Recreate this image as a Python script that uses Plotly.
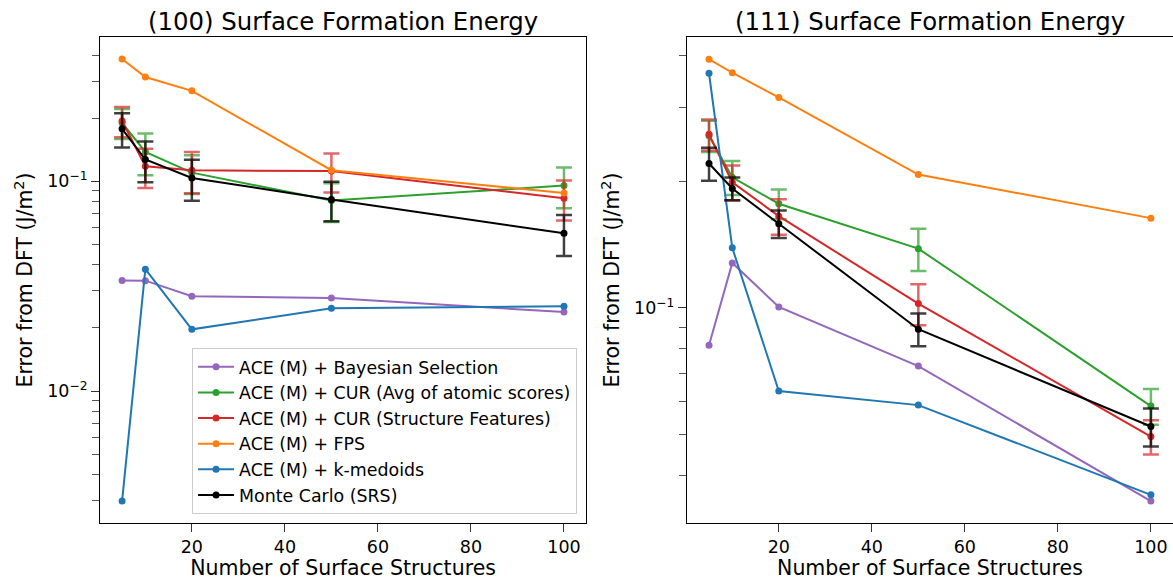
import plotly.graph_objects as go

# ---------------- data ----------------
n_structures = [5, 10, 20, 50, 100]

names = [
    "ACE (M) + Bayesian Selection",
    "ACE (M) + CUR (Avg of atomic scores)",
    "ACE (M) + CUR (Structure Features)",
    "ACE (M) + FPS",
    "ACE (M) + k-medoids",
    "Monte Carlo (SRS)",
]

# (100) surface
bayes_100 = [0.0337, 0.0336, 0.0283, 0.0278, 0.0238]
cur_avg_100 = [0.190, 0.138, 0.110, 0.081, 0.0954]
cur_avg_100_err = [0.031, 0.031, 0.023, 0.017, 0.021]
cur_struct_100 = [0.194, 0.118, 0.1128, 0.112, 0.083]
cur_struct_100_err = [0.032, 0.025, 0.025, 0.0236, 0.018]
fps_100 = [0.383, 0.314, 0.270, 0.113, 0.088]
kmed_100 = [0.00299, 0.0381, 0.0197, 0.0248, 0.0254]
mc_100 = [0.178, 0.127, 0.1037, 0.082, 0.0565]
mc_100_err = [0.033, 0.028, 0.023, 0.0175, 0.0125]

# (111) surface
bayes_111 = [0.0815, 0.128, 0.1005, 0.0727, 0.0347]
cur_avg_111 = [0.257, 0.2047, 0.177, 0.1384, 0.0584]
cur_avg_111_err = [0.022, 0.019, 0.0145, 0.016, 0.0057]
cur_struct_111 = [0.259, 0.1992, 0.1654, 0.1024, 0.0494]
cur_struct_111_err = [0.022, 0.019, 0.016, 0.0115, 0.0046]
fps_111 = [0.391, 0.363, 0.317, 0.2078, 0.1636]
kmed_111 = [0.362, 0.139, 0.0634, 0.0587, 0.0359]
mc_111 = [0.2207, 0.1925, 0.1587, 0.089, 0.0522]
mc_111_err = [0.020, 0.012, 0.012, 0.008, 0.0054]

titles = ["(100) Surface Formation Energy", "(111) Surface Formation Energy"]
x_ticks = [20, 40, 60, 80, 100]

colors = ["#9467bd", "#2ca02c", "#d62728", "#ff7f0e", "#1f77b4", "#000000"]
err_colors = ["rgba(148,103,189,0.7)", "rgba(44,160,44,0.7)", "rgba(214,39,40,0.7)",
              "rgba(255,127,14,0.7)", "rgba(31,119,180,0.7)", "rgba(0,0,0,0.75)"]

panels = [
    ([bayes_100, cur_avg_100, cur_struct_100, fps_100, kmed_100, mc_100],
     [None, cur_avg_100_err, cur_struct_100_err, None, None, mc_100_err]),
    ([bayes_111, cur_avg_111, cur_struct_111, fps_111, kmed_111, mc_111],
     [None, cur_avg_111_err, cur_struct_111_err, None, None, mc_111_err]),
]

FONT = "DejaVu Sans"
fig = go.Figure()

for p, (series, errs) in enumerate(panels):
    xa = "x" if p == 0 else "x2"
    ya = "y" if p == 0 else "y2"
    for i, (vals, err) in enumerate(zip(series, errs)):
        tr = dict(
            x=n_structures, y=vals, mode="lines+markers", name=names[i],
            line=dict(color=colors[i], width=2),
            marker=dict(color=colors[i], size=7),
            xaxis=xa, yaxis=ya,
            legendgroup=names[i], showlegend=(p == 0),
        )
        if err is not None:
            tr["error_y"] = dict(type="data", array=err, visible=True,
                                 color=err_colors[i], thickness=2.5, width=8)
        fig.add_trace(go.Scatter(**tr))

axis_common = dict(
    showline=True, linecolor="black", linewidth=1, mirror=True,
    ticks="outside", tickcolor="#333333", ticklen=8, tickwidth=1,
    showgrid=False, zeroline=False, automargin=False,
    tickfont=dict(family=FONT, size=17.5, color="black"),
)

xdom = [[0, 0.453], [0.547, 1.0]]
for p in range(2):
    key = "xaxis" if p == 0 else "xaxis2"
    fig.layout[key] = dict(
        axis_common, domain=xdom[p], range=[0.25, 104.75],
        tickmode="array", tickvals=x_ticks,
        anchor="y" if p == 0 else "y2",
        title=dict(text="Number of Surface Structures",
                   font=dict(family=FONT, size=20.5, color="black"), standoff=2),
    )

minor_left = [3e-3, 4e-3, 5e-3, 6e-3, 7e-3, 8e-3, 9e-3,
              2e-2, 3e-2, 4e-2, 5e-2, 6e-2, 7e-2, 8e-2, 9e-2,
              2e-1, 3e-1, 4e-1]
minor_right = [4e-2, 5e-2, 6e-2, 7e-2, 8e-2, 9e-2, 2e-1, 3e-1, 4e-1]

ytitle = dict(text="Error from DFT (J/m<sup>2</sup>)",
              font=dict(family=FONT, size=20.5, color="black"), standoff=8)

fig.layout["yaxis"] = dict(
    axis_common, type="log", range=[-2.629, -0.312], anchor="x",
    tickmode="array", tickvals=[0.01, 0.1],
    ticktext=["10<sup>−2</sup>", "10<sup>−1</sup>"],
    minor=dict(tickmode="array", tickvals=minor_left, ticks="outside",
               ticklen=7, tickcolor="#555555", tickwidth=1),
    title=ytitle,
)
fig.layout["yaxis2"] = dict(
    axis_common, type="log", range=[-1.512, -0.355], anchor="x2",
    tickmode="array", tickvals=[0.1],
    ticktext=["10<sup>−1</sup>"],
    minor=dict(tickmode="array", tickvals=minor_right, ticks="outside",
               ticklen=7, tickcolor="#555555", tickwidth=1),
    title=ytitle,
)

for p in range(2):
    fig.add_annotation(
        text=titles[p], xref="paper", yref="paper",
        x=(xdom[p][0] + xdom[p][1]) / 2, y=1, xanchor="center", yanchor="bottom",
        yshift=-1, showarrow=False,
        font=dict(family=FONT, size=24.4, color="black"),
    )

fig.update_layout(
    width=1173, height=580,
    margin=dict(l=100, r=0, t=37, b=57, autoexpand=False),
    paper_bgcolor="white", plot_bgcolor="white",
    font=dict(family=FONT, color="black"),
    showlegend=True,
    legend=dict(
        x=0.4446, y=0.0185, xanchor="right", yanchor="bottom",
        bgcolor="rgba(255,255,255,0.85)", bordercolor="#cccccc", borderwidth=1,
        font=dict(family=FONT, size=17.4, color="black"),
        tracegroupgap=0, itemwidth=36,
    ),
)

fig.write_html("out.html", config={"displayModeBar": False},
               post_script="document.body.style.margin='0';")
